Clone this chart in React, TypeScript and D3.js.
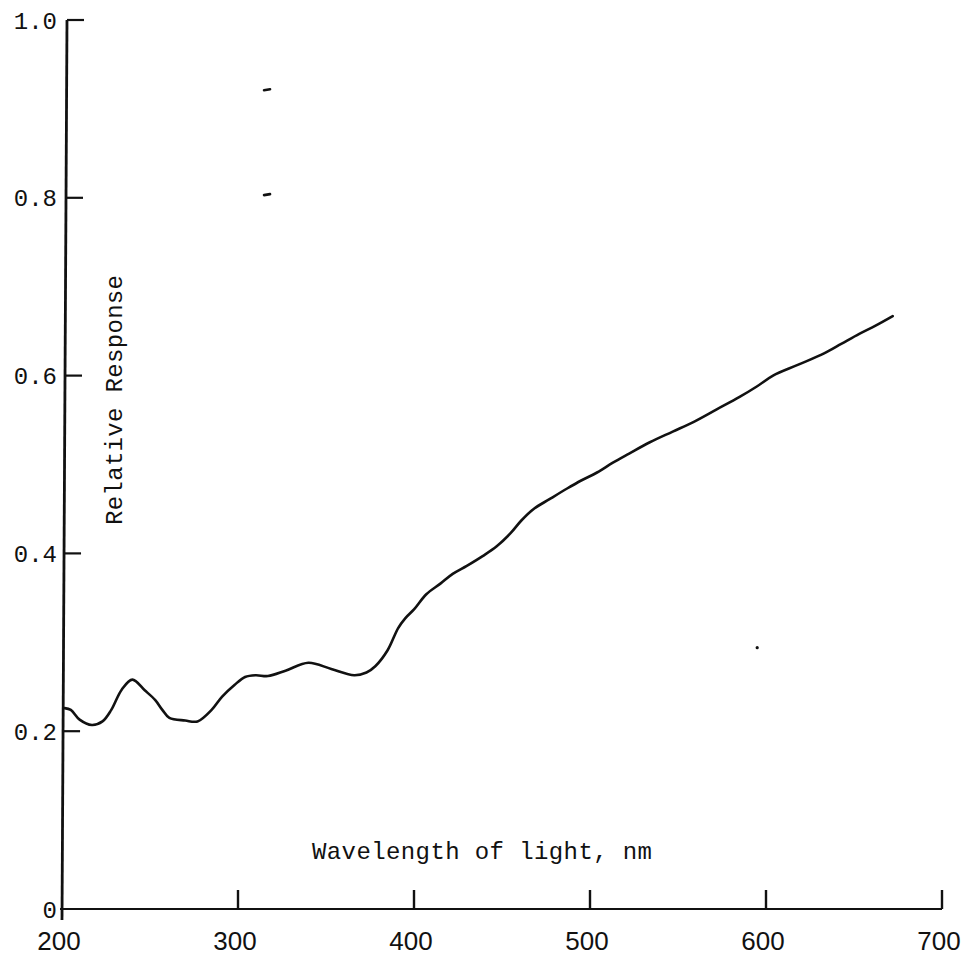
import React from 'react';
import * as d3 from 'd3';

// wavelength (nm) and relative response
const wavelengths = [
  201.5, 205, 210, 217, 223, 228, 234, 240, 247, 253, 257, 261, 270, 277, 285, 291, 298, 304, 310, 317,
  327, 340, 353, 366, 373, 378, 385, 391, 395, 400, 407, 415, 422, 430, 439, 447, 455, 461, 468, 477,
  487, 495, 504, 513, 522, 534, 547, 559, 572, 585, 595, 604, 618, 633, 643, 653, 662, 672,
];
const responses = [
  0.226, 0.224, 0.213, 0.207, 0.211, 0.224, 0.247, 0.258, 0.246, 0.235, 0.224, 0.215, 0.212, 0.211, 0.224, 0.239, 0.252, 0.261, 0.263, 0.262,
  0.268, 0.277, 0.27, 0.263, 0.266, 0.273, 0.291, 0.316, 0.327, 0.337, 0.354, 0.366, 0.377, 0.386, 0.397, 0.408, 0.423, 0.437, 0.45, 0.461,
  0.473, 0.482, 0.491, 0.502, 0.512, 0.525, 0.537, 0.548, 0.562, 0.576, 0.588, 0.6, 0.612, 0.625, 0.636, 0.647, 0.656, 0.667,
];

const xTicks = [200, 300, 400, 500, 600, 700];
const xTickLabels = ['200', '300', '400', '500', '600', '700'];
const yTicks = [0, 0.2, 0.4, 0.6, 0.8, 1.0];
const yTickLabels = ['0', '0.2', '0.4', '0.6', '0.8', '1.0'];

// stray specks on the scan
const specks = [
  { nm: 316.5, v: 0.921 },
  { nm: 316.5, v: 0.803 },
];
const dot = { nm: 595, v: 0.294 };

const xLabel = 'Wavelength of light, nm';
const yLabel = 'Relative Response';

const W = 971;
const H = 967;

const App: React.FC = () => {
  const x = d3.scaleLinear().domain([200, 700]).range([62, 942]);
  const y = d3.scaleLinear().domain([0, 1]).range([909, 20]);

  const points: [number, number][] = wavelengths.map((w, i) => [w, responses[i]]);
  const line = d3.line<[number, number]>()
    .x(d => x(d[0]))
    .y(d => y(d[1]))
    .curve(d3.curveCatmullRom.alpha(0.5));

  // the hand drawn axis leans a little to the right at the top
  const axisBottom = y(0) + 11;
  const axisTop = y(1);
  const axisX = (py: number) => x(200) + 5 * (axisBottom - py) / (axisBottom - axisTop);

  const ink = '#111';
  const mono = '"Liberation Mono", "DejaVu Sans Mono", monospace';

  return (
    <svg
      width={W}
      height={H}
      style={{ position: 'absolute', left: 0, top: 0, background: '#fff' }}
    >
      <rect width={W} height={H} fill="#fff" />

      {/* y axis */}
      <line x1={axisX(axisBottom)} y1={axisBottom} x2={axisX(axisTop)} y2={axisTop}
        stroke={ink} strokeWidth={2.8} />
      {yTicks.filter(t => t > 0).map(t => (
        <line key={t} x1={axisX(y(t))} y1={y(t)} x2={axisX(y(t)) + 17} y2={y(t)}
          stroke={ink} strokeWidth={2.2} />
      ))}
      {yTicks.map((t, i) => (
        <text key={t} x={57} y={y(t)} dy="0.36em" textAnchor="end"
          fontFamily={mono} fontSize={24} fill={ink}>
          {yTickLabels[i]}
        </text>
      ))}

      {/* x axis */}
      <line x1={x(200) - 2} y1={y(0)} x2={x(700)} y2={y(0)} stroke={ink} strokeWidth={2.2} />
      {xTicks.filter(t => t > 200).map(t => (
        <line key={t} x1={x(t)} y1={y(0)} x2={x(t)} y2={y(0) - 19} stroke={ink} strokeWidth={2.4} />
      ))}
      {xTicks.map((t, i) => (
        <text key={t} x={x(t) - 3} y={950} textAnchor="middle"
          fontFamily='"Liberation Sans Narrow", "Liberation Sans", sans-serif' fontSize={26} fill={ink}>
          {xTickLabels[i]}
        </text>
      ))}

      {/* axis titles */}
      <text x={482} y={859} textAnchor="middle" fontFamily={mono} fontSize={24}
        textLength={340} lengthAdjust="spacing" fill={ink}>
        {xLabel}
      </text>
      <text transform="translate(122,400) rotate(-90)" textAnchor="middle" fontFamily={mono}
        fontSize={24} textLength={250} lengthAdjust="spacing" fill={ink}>
        {yLabel}
      </text>

      {/* response curve */}
      <path d={line(points) ?? ''} fill="none" stroke={ink} strokeWidth={2.6}
        strokeLinejoin="round" strokeLinecap="round" />

      {specks.map((s, i) => (
        <line key={i} x1={x(s.nm) - 3} y1={y(s.v)} x2={x(s.nm) + 3} y2={y(s.v) - 1}
          stroke={ink} strokeWidth={2.6} strokeLinecap="round" />
      ))}
      <circle cx={x(dot.nm)} cy={y(dot.v)} r={1.6} fill={ink} />
    </svg>
  );
};

export default App;
